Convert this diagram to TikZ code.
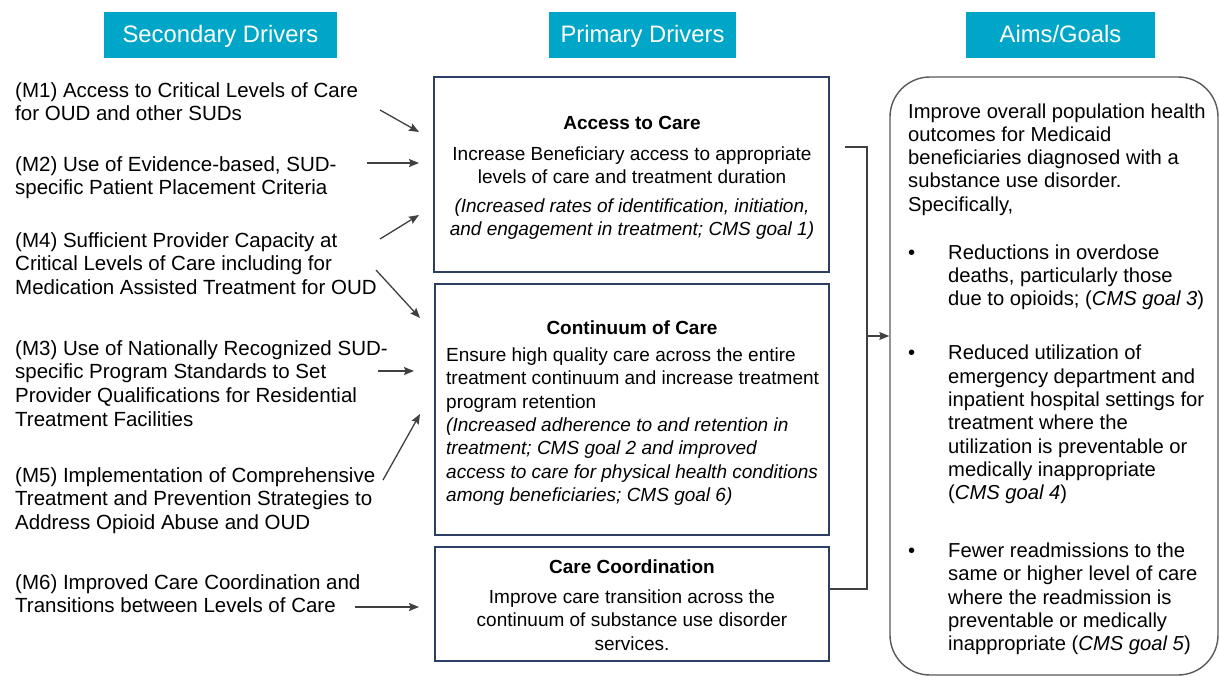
\documentclass[tikz,border=0pt]{standalone}
\usepackage{fontspec}
\setmainfont{Liberation Sans}
\usetikzlibrary{arrows.meta,calc}
\definecolor{hdrc}{RGB}{0,166,200}
\definecolor{boxc}{RGB}{44,62,100}
\definecolor{aimc}{RGB}{89,89,89}
\definecolor{conc}{RGB}{64,64,64}
\newcommand\aimbul{\makebox[40pt][l]{\textbullet}}
\newcommand\aimind{\hspace*{40pt}}
\begin{document}
\begin{tikzpicture}[x=1pt,y=-1pt,
  hdrbox/.style={fill=hdrc, text=white, minimum width=#1, minimum height=46pt, inner sep=0pt,
    text height=16pt, text depth=0pt, font=\fontsize{23.8}{28}\selectfont},
  pbox/.style={draw=boxc, line width=1.6pt, inner sep=0pt},
  aimbox/.style={draw=aimc, line width=1.4pt, rounded corners=40pt, inner sep=0pt},
  ptxt/.style={inner sep=0pt, font=\fontsize{19}{23.3}\selectfont},
  ptitle/.style={inner sep=0pt, font=\fontsize{19}{23.3}\selectfont\bfseries, anchor=base},
  lefttxt/.style={inner sep=0pt, align=left, anchor=north west, font=\fontsize{20.5}{23.6}\selectfont},
  rtxt/.style={inner sep=0pt, align=left, anchor=north west, font=\fontsize{20.2}{23.3}\selectfont},
  conn/.style={draw=conc, line width=1.3pt, -{Stealth[length=10pt,width=8pt,inset=1.5pt]}},
  bline/.style={draw=conc, line width=1.3pt}
]
\useasboundingbox (0,0) rectangle (1219,677);

% headers
\node[hdrbox=233pt] (hsec) at (220.5,35) {Secondary Drivers};
\node[hdrbox=187pt] (hpri) at (642.5,35) {Primary Drivers};
\node[hdrbox=189pt] (haim) at (1060.5,35) {Aims/Goals};

% primary boxes
\node[pbox, minimum width=395pt, minimum height=195pt] (access) at (631.5,174.5) {};
\node[pbox, minimum width=394pt, minimum height=251pt] (cont) at (632,409.5) {};
\node[pbox, minimum width=394pt, minimum height=114pt] (coord) at (632,604) {};

\node[ptitle] (accesst) at (632,129) {Access to Care};
\node[ptxt, anchor=north, align=center] (accessb) at (632,143.5)
  {\strut Increase Beneficiary access to appropriate\\
   levels of care and treatment duration\\[5.7pt]
   \textit{(Increased rates of identification, initiation,}\\
   \textit{and engagement in treatment; CMS goal 1)}};

\node[ptitle] (contt) at (632,334.5) {Continuum of Care};
\node[ptxt, anchor=north west, align=left] (contb) at (446,345)
  {\strut Ensure high quality care across the entire\\
   treatment continuum and increase treatment\\
   program retention\\
   \textit{(Increased adherence to and retention in}\\
   \textit{treatment; CMS goal 2 and improved}\\
   \textit{access to care for physical health conditions}\\
   \textit{among beneficiaries; CMS goal 6)}};

\node[ptitle] (coordt) at (632,573.5) {Care Coordination};
\node[ptxt, anchor=north, align=center] (coordb) at (632,587)
  {\strut Improve care transition across the\\
   continuum of substance use disorder\\
   services.};

% secondary drivers
\node[lefttxt] (m1) at (15,80.5) {\strut (M1) Access to Critical Levels of Care\\for OUD and other SUDs};
\node[lefttxt] (m2) at (15,154.5) {\strut (M2) Use of Evidence-based, SUD-\\specific Patient Placement Criteria};
\node[lefttxt] (m4) at (15,230.5) {\strut (M4) Sufficient Provider Capacity at\\Critical Levels of Care including for\\Medication Assisted Treatment for OUD};
\node[lefttxt] (m3) at (15,338.5) {\strut (M3) Use of Nationally Recognized SUD-\\specific Program Standards to Set\\Provider Qualifications for Residential\\Treatment Facilities};
\node[lefttxt] (m5) at (15,465.5) {\strut (M5) Implementation of Comprehensive\\Treatment and Prevention Strategies to\\Address Opioid Abuse and OUD};
\node[lefttxt] (m6) at (15,572.5) {\strut (M6) Improved Care Coordination and\\Transitions between Levels of Care};

% aims box
\node[aimbox, minimum width=328pt, minimum height=598pt] (aims) at (1054,376) {};
\node[rtxt] (aimt) at (908,101.5)
  {\strut Improve overall population health\\
   outcomes for Medicaid\\
   beneficiaries diagnosed with a\\
   substance use disorder.\\
   Specifically,\\[24.7pt]
   \aimbul Reductions in overdose\\
   \aimind deaths, particularly those\\
   \aimind due to opioids; (\textit{CMS goal 3})\\[30.7pt]
   \aimbul Reduced utilization of\\
   \aimind emergency department and\\
   \aimind inpatient hospital settings for\\
   \aimind treatment where the\\
   \aimind utilization is preventable or\\
   \aimind medically inappropriate\\
   \aimind (\textit{CMS goal 4})\\[34.7pt]
   \aimbul Fewer readmissions to the\\
   \aimind same or higher level of care\\
   \aimind where the readmission is\\
   \aimind preventable or medically\\
   \aimind inappropriate (\textit{CMS goal 5})};

% connector endpoints
\coordinate (a1s) at (380,110); \coordinate (a1e) at (419,132);
\coordinate (a2s) at (367,163); \coordinate (a2e) at (419,163);
\coordinate (a3s) at (380,239); \coordinate (a3e) at (419,215);
\coordinate (a4s) at (376,270); \coordinate (a4e) at (420,318);
\coordinate (a5s) at (378,371); \coordinate (a5e) at (414,371);
\coordinate (a6s) at (383,480); \coordinate (a6e) at (420,414);
\coordinate (a7s) at (355,607); \coordinate (a7e) at (419,607);

\draw[conn] (a1s) -- (a1e);
\draw[conn] (a2s) -- (a2e);
\draw[conn] (a3s) -- (a3e);
\draw[conn] (a4s) -- (a4e);
\draw[conn] (a5s) -- (a5e);
\draw[conn] (a6s) -- (a6e);
\draw[conn] (a7s) -- (a7e);

% bracket to aims
\coordinate (brtop) at (845,147);
\coordinate (brcorner) at (867,147);
\coordinate (brbot) at (867,589);
\coordinate (brmid) at (867,336);
\draw[bline] (brtop) -- (brcorner) -- (brbot) -- (coord.east |- brbot);
\draw[conn] (brmid) -- (aims.west |- brmid);
\end{tikzpicture}
\end{document}
